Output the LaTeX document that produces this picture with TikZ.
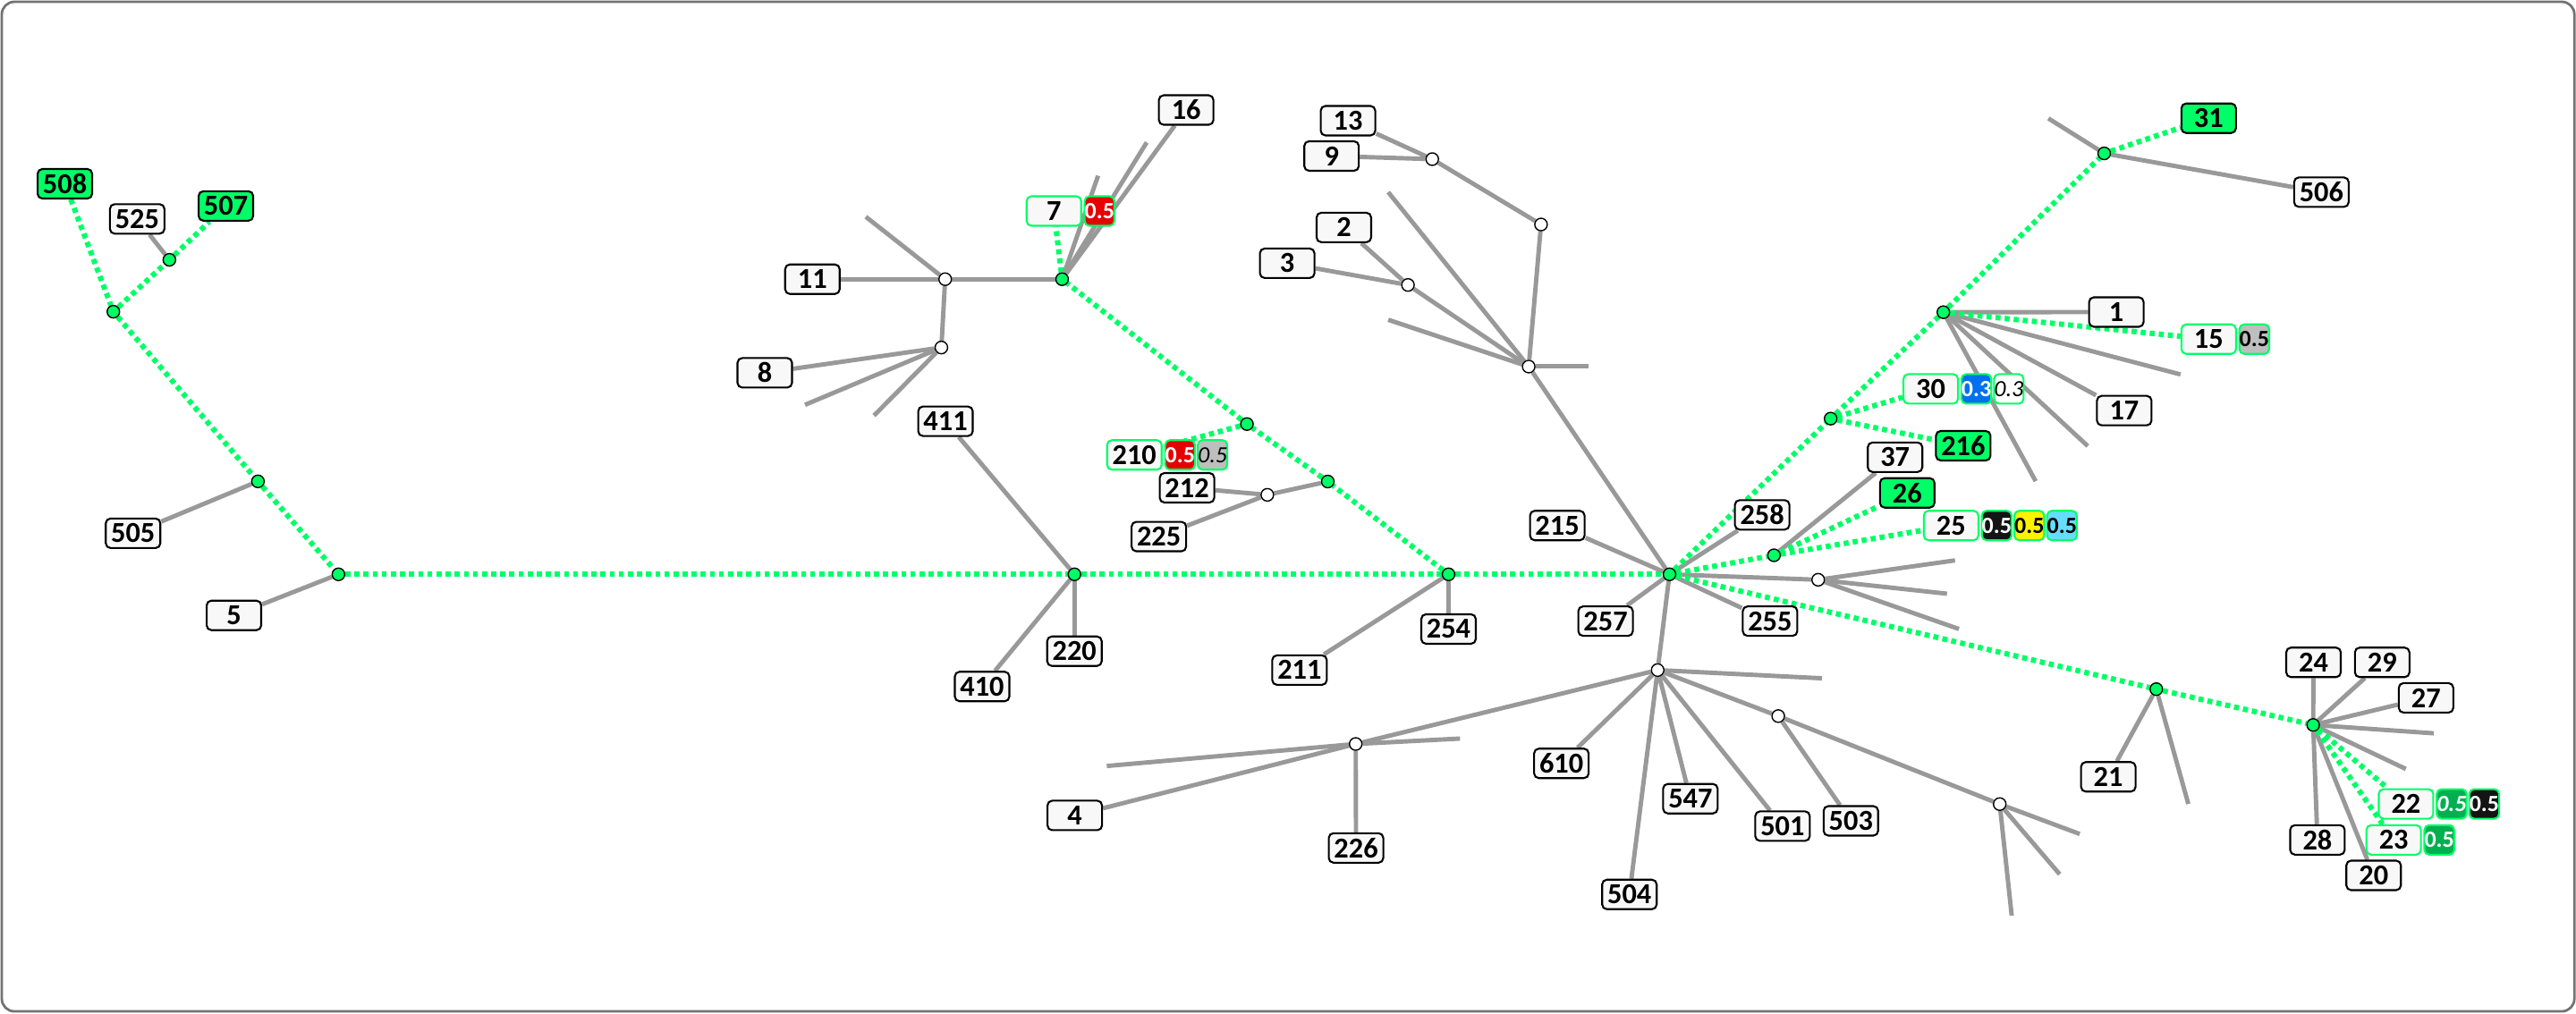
\documentclass[tikz,border=0pt]{standalone}
\usepackage{fontspec}
\setmainfont{Carlito}
\usepackage{tikz, xcolor}
\usetikzlibrary{positioning}
\definecolor{hitgreen}{RGB}{0,255,102}
\definecolor{edgegray}{RGB}{153,153,153}
\definecolor{boxgray}{RGB}{248,248,248}
\definecolor{wred}{RGB}{230,0,0}
\definecolor{wgray}{RGB}{190,190,190}
\definecolor{wblue}{RGB}{0,112,240}
\definecolor{wcyan}{RGB}{102,221,255}
\definecolor{wgreen}{RGB}{0,176,80}
\definecolor{wblack}{RGB}{20,20,20}
\pgfdeclarelayer{bg}
\pgfsetlayers{bg,main}

\begin{document}
\begin{tikzpicture}[x=0.018367cm, y=-0.018367cm,
  lbl/.style={draw=black, line width=0.6pt, fill=boxgray, rounded corners=1.5pt, minimum width=0.61cm, minimum height=0.33cm, inner sep=0pt, font=\fontsize{9.2}{10}\selectfont\bfseries},
  hit/.style={lbl, fill=hitgreen},
  part/.style={lbl, draw=hitgreen},
  wt/.style={draw=hitgreen, line width=0.6pt, rounded corners=1.5pt, minimum width=0.325cm, minimum height=0.33cm, inner sep=0pt, font=\fontsize{7.4}{8}\selectfont\bfseries},
  jg/.style={circle, draw=black, line width=0.4pt, fill=hitgreen, minimum size=0.14cm, inner sep=0pt},
  jw/.style={jg, fill=white},
  br/.style={draw=edgegray, line width=1.4pt},
  hl/.style={draw=hitgreen, line width=1.7pt, dash pattern=on 1.6pt off 1.3pt}]
\useasboundingbox (0,0) rectangle (1568,617);
\draw[draw=black!55, line width=0.8pt, rounded corners=4pt] (1.1,1.1) rectangle (1567,615.8);

\node[hit] (n508) at (39.5,111.9) {508};
\node[lbl] (n525) at (83.5,133.3) {525};
\node[hit] (n507) at (137.5,125.4) {507};
\node[lbl] (n505) at (81,324.7) {505};
\node[lbl] (n5) at (142.4,374.7) {5};
\node[jg] (jA) at (103.1,158.2) {};
\node[jg] (jB) at (69,189.8) {};
\node[jg] (jC) at (157,293.1) {};
\node[jg] (jD) at (206,349.7) {};

\node[lbl] (n11) at (494.5,170) {11};
\node[lbl] (n8) at (465.5,227) {8};
\node[lbl] (n16) at (722,67) {16};
\node[part] (n7) at (641.5,128.5) {7};
\node[wt, fill=wred, text=white, right=0.5pt of n7] (w7) {0.5};
\node[jw] (jw11) at (575.3,170) {};
\node[jw] (jw8) at (573,211.6) {};
\node[jg] (j7) at (646.5,170) {};
\coordinate (e11) at (527,132);
\coordinate (e8a) at (490,246.5);
\coordinate (e8b) at (532,253);
\coordinate (e7a) at (698,86.7);
\coordinate (e7b) at (668.4,107);

\node[part] (n210) at (690.5,277) {210};
\node[wt, fill=wred, text=white, right=0.5pt of n210] (w210a) {0.5};
\node[wt, fill=wgray, font=\fontsize{7.4}{8}\selectfont\itshape, right=0.3pt of w210a] (w210b) {0.5};
\node[lbl] (n212) at (722.5,297) {212};
\node[lbl] (n225) at (705.4,326.7) {225};
\node[jg] (j210) at (759,258.2) {};
\node[jg] (j212) at (808.2,293.2) {};
\node[jw] (jw212) at (771.4,301.3) {};
\node[lbl] (n411) at (575.5,256.5) {411};
\node[lbl] (n410) at (597.8,418) {410};
\node[lbl] (n220) at (654,396.5) {220};
\node[lbl] (n211) at (791,408) {211};
\node[lbl] (n254) at (881.7,383) {254};
\node[jg] (j220) at (654,349.7) {};
\node[jg] (j254) at (881.7,349.7) {};

\node[lbl] (n13) at (820.5,73.5) {13};
\node[lbl] (n9) at (810.5,95) {9};
\node[lbl] (n2) at (818,138.5) {2};
\node[lbl] (n3) at (783.5,160.3) {3};
\node[jw] (jw9) at (871.8,96.9) {};
\node[jw] (jw1) at (938,136.7) {};
\node[jw] (jw3) at (857,173.5) {};
\node[jw] (jw0) at (930.5,223.2) {};
\coordinate (e0a) at (845,117);
\coordinate (e0b) at (845,194.7);
\coordinate (e0c) at (967,223.2);

\node[lbl] (n215) at (947.9,320) {215};
\node[lbl] (n258) at (1072.6,313.5) {258};
\node[lbl] (n257) at (977.3,378.2) {257};
\node[lbl] (n255) at (1077.4,378.2) {255};
\node[jg] (jH) at (1016.2,349.7) {};

\node[lbl] (n4) at (654.2,496.5) {4};
\node[lbl] (n226) at (825.4,516.3) {226};
\node[lbl] (n610) at (950.4,464.8) {610};
\node[lbl] (n547) at (1028.9,486.3) {547};
\node[lbl] (n504) at (991.8,544.6) {504};
\node[lbl] (n501) at (1085,503) {501};
\node[lbl] (n503) at (1126.6,499.8) {503};
\node[jw] (jw504) at (1009,408) {};
\node[jw] (jw226) at (825.2,453) {};
\node[jw] (jw503) at (1082.4,436) {};
\node[jw] (jwl) at (1217.2,489.6) {};
\coordinate (e504) at (1109,413);
\coordinate (e226a) at (888.7,449.7);
\coordinate (e226b) at (673.7,466.4);
\coordinate (el1) at (1265.9,507.8);
\coordinate (el2) at (1253.7,532.3);
\coordinate (el3) at (1224.5,557.5);

\node[lbl] (n37) at (1153.5,278.4) {37};
\node[hit] (n26) at (1160.9,300.1) {26};
\node[part] (n25) at (1187.6,320) {25};
\node[wt, fill=wblack, text=white, right=0.5pt of n25] (w25a) {0.5};
\node[wt, fill=yellow, right=0.3pt of w25a] (w25b) {0.5};
\node[wt, fill=wcyan, right=0.3pt of w25b] (w25c) {0.5};
\node[jg] (j26) at (1079.8,338.1) {};
\node[jw] (jwf) at (1106.7,353) {};
\coordinate (ef1) at (1190,341.2);
\coordinate (ef2) at (1185.1,361.5);
\coordinate (ef3) at (1192.4,383);

\node[part] (n30) at (1175.2,236.8) {30};
\node[wt, fill=wblue, text=white, right=0.5pt of n30] (w30a) {0.3};
\node[wt, fill=white, font=\fontsize{7.4}{8}\selectfont\itshape, right=0.3pt of w30a] (w30b) {0.3};
\node[hit] (n216) at (1195,271.4) {216};
\node[jg] (j30) at (1114.3,254.9) {};
\node[lbl] (n1) at (1288.2,190) {1};
\node[lbl] (n17) at (1293,250) {17};
\node[part] (n15) at (1344.4,206.5) {15};
\node[wt, fill=wgray, right=0.5pt of n15] (w15) {0.5};
\node[jg] (j1) at (1182.9,190.1) {};
\coordinate (e1a) at (1327.3,228);
\coordinate (e1b) at (1270.8,271.6);
\coordinate (e1c) at (1239.1,293);
\node[hit] (n31) at (1344.4,72) {31};
\node[lbl] (n506) at (1413,117) {506};
\node[jg] (j31) at (1280.8,93.4) {};
\coordinate (e31) at (1246.8,72.1);

\node[lbl] (n21) at (1283.3,473) {21};
\node[jg] (j21) at (1312.5,419.6) {};
\coordinate (e21) at (1332,489.5);
\node[lbl] (n24) at (1408.2,403.3) {24};
\node[lbl] (n29) at (1450,403.3) {29};
\node[lbl] (n27) at (1476.7,424.9) {27};
\node[lbl] (n28) at (1410.6,511.4) {28};
\node[lbl] (n20) at (1444.8,533) {20};
\node[part] (n22) at (1464.5,489.5) {22};
\node[wt, fill=wgreen, text=white, font=\fontsize{7.4}{8}\selectfont\bfseries\itshape, right=0.5pt of n22] (w22a) {0.5};
\node[wt, fill=wblack, text=white, right=0.3pt of w22a] (w22b) {0.5};
\node[part] (n23) at (1457,511.4) {23};
\node[wt, fill=wgreen, text=white, right=0.5pt of n23] (w23) {0.5};
\node[jg] (j22) at (1408,441.4) {};
\coordinate (e22a) at (1481.4,446.5);
\coordinate (e22b) at (1464.4,468.2);

\begin{pgfonlayer}{bg}
\foreach \a/\b in {jA/n525, jC/n505, jD/n5, j220/n411, j220/n410, j220/n220, j7/jw11, jw11/n11, jw11/e11, jw11/jw8, jw8/n8, jw8/e8a, jw8/e8b, j7/n16, j7/e7a, j7/e7b, j212/jw212, jw212/n212, jw212/n225, j254/n211, j254/n254, jH/n215, jH/n257, jH/n255, jH/n258, jH/jw0, jw0/jw3, jw3/n2, jw3/n3, jw0/e0a, jw0/e0b, jw0/e0c, jw0/jw1, jw1/jw9, jw9/n13, jw9/n9, jH/jwf, jwf/ef1, jwf/ef2, jwf/ef3, jH/jw504, jw504/jw226, jw226/n4, jw226/n226, jw226/e226a, jw226/e226b, jw504/n610, jw504/n547, jw504/n504, jw504/n501, jw504/jw503, jw504/e504, jw503/n503, jw503/jwl, jwl/el1, jwl/el2, jwl/el3, j26/n37, j1/n1, j1/n17, j1/e1a, j1/e1b, j1/e1c, j31/e31, j31/n506, j21/n21, j21/e21, j22/n24, j22/n29, j22/n27, j22/e22a, j22/e22b, j22/n28, j22/n20}
  \draw[br] (\a) -- (\b);
\foreach \a/\b in {n508/jB, jB/jA, jA/n507, jB/jC, jC/jD, jD/j220, j220/j254, j254/jH, j254/j212, j212/j210, j210/j7, j7/n7, j210/n210, jH/j30, j30/j1, j1/j31, j31/n31, j1/n15, j30/n30, j30/n216, jH/j26, j26/n26, j26/n25, jH/j21, j21/j22, j22/n22, j22/n23}
  \draw[hl] (\a) -- (\b);
\end{pgfonlayer}
\end{tikzpicture}
\end{document}
